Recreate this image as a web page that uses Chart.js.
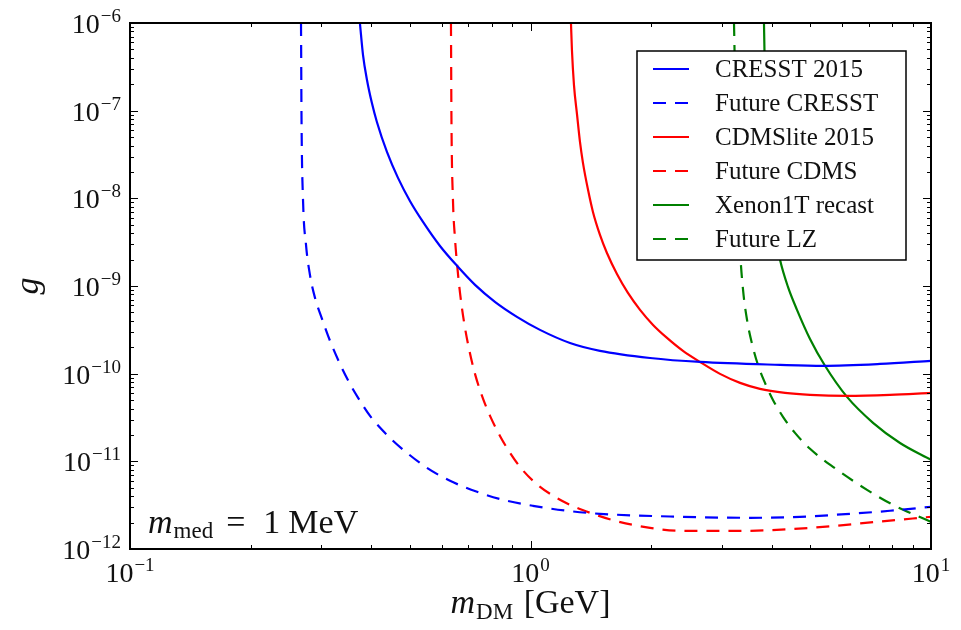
<!DOCTYPE html>
<html>
<head>
<meta charset="utf-8">
<script src="https://cdn.jsdelivr.net/npm/chart.js@4.4.1/dist/chart.umd.min.js"></script>
<style>
html, body { margin: 0; padding: 0; background: #fff; }
</style>
</head>
<body>
<canvas id="limitChart" width="961" height="630"></canvas>
<script>
// dark matter mass [GeV] and coupling g
const cresstMass = [0.375, 0.3818, 0.3906, 0.4018, 0.4135, 0.4381, 0.4668, 0.500, 0.539, 0.5943, 0.6553, 0.727, 0.815, 0.925, 1.056, 1.255, 1.491, 1.988, 2.65, 4.20, 5.37, 7.46, 10];
const cresstG = [1e-6, 4.31e-7, 2.24e-7, 1.22e-7, 7.43e-8, 3.38e-8, 1.71e-8, 9.33e-9, 5.38e-9, 2.86e-9, 1.7e-9, 1.03e-9, 6.6e-10, 4.45e-10, 3.16e-10, 2.24e-10, 1.82e-10, 1.51e-10, 1.36e-10, 1.26e-10, 1.23e-10, 1.29e-10, 1.40e-10];

const futureCresstMass = [0.2673, 0.2681, 0.2704, 0.2751, 0.2814, 0.2897, 0.3016, 0.3158, 0.3344, 0.3541, 0.3752, 0.3975, 0.4459, 0.4915, 0.5514, 0.6295, 0.7355, 0.8537, 1.0144, 1.233, 1.491, 2.403, 3.532, 4.71, 6.28, 7.90, 10];
const futureCresstG = [1e-6, 7.83e-8, 9.6e-9, 2.94e-9, 1.34e-9, 7.32e-10, 4.22e-10, 2.37e-10, 1.29e-10, 7.65e-11, 4.9e-11, 3.3e-11, 1.85e-11, 1.25e-11, 8.43e-12, 6.0e-12, 4.49e-12, 3.64e-12, 3.11e-12, 2.73e-12, 2.52e-12, 2.33e-12, 2.27e-12, 2.33e-12, 2.52e-12, 2.73e-12, 3.03e-12];

const cdmsMass = [1.262, 1.269, 1.284, 1.307, 1.329, 1.352, 1.392, 1.432, 1.491, 1.552, 1.644, 1.751, 1.877, 2.023, 2.192, 2.403, 2.650, 2.973, 3.336, 3.741, 4.321, 4.988, 6.17, 7.90, 10];
const cdmsG = [1e-6, 4.92e-7, 1.96e-7, 8.93e-8, 4.4e-8, 2.54e-8, 1.25e-8, 7.0e-9, 3.83e-9, 2.38e-9, 1.37e-9, 8.34e-10, 5.35e-10, 3.6e-10, 2.56e-10, 1.82e-10, 1.36e-10, 9.95e-11, 7.85e-11, 6.71e-11, 6.04e-11, 5.73e-11, 5.58e-11, 5.73e-11, 6.04e-11];

const futureCdmsMass = [0.633, 0.6348, 0.6403, 0.6477, 0.6552, 0.6668, 0.6823, 0.7022, 0.7268, 0.7567, 0.7924, 0.8391, 0.8888, 0.9414, 1.0144, 1.1186, 1.255, 1.408, 1.626, 1.988, 2.403, 3.336, 4.988, 7.33, 10];
const futureCdmsG = [1e-6, 7.83e-8, 9.6e-9, 3.53e-9, 1.83e-9, 8.34e-10, 3.9e-10, 1.92e-10, 9.95e-11, 5.58e-11, 3.3e-11, 1.95e-11, 1.25e-11, 8.65e-12, 6.0e-12, 4.26e-12, 3.19e-12, 2.59e-12, 2.1e-12, 1.74e-12, 1.61e-12, 1.61e-12, 1.74e-12, 2.04e-12, 2.33e-12];

const xenonMass = [3.828, 3.839, 3.873, 3.917, 3.985, 4.078, 4.198, 4.394, 4.628, 4.988, 5.437, 6.170, 7.166, 8.367, 10];
const xenonG = [1e-6, 4.8e-7, 1.02e-7, 2.74e-8, 9.6e-9, 4.04e-9, 1.99e-9, 9.77e-10, 5.35e-10, 2.49e-10, 1.23e-10, 5.43e-11, 2.75e-11, 1.62e-11, 1.04e-11];

const lzMass = [3.222, 3.232, 3.260, 3.298, 3.336, 3.394, 3.473, 3.574, 3.698, 3.850, 4.031, 4.270, 4.575, 4.988, 5.692, 6.922, 8.036, 9.226, 10];
const lzG = [1e-6, 4.8e-7, 6.03e-8, 9.6e-9, 2.58e-9, 9.03e-10, 4.1e-10, 2.19e-10, 1.26e-10, 7.85e-11, 5.02e-11, 3.22e-11, 2.11e-11, 1.39e-11, 8.65e-12, 4.73e-12, 3.19e-12, 2.39e-12, 2.04e-12];

const seriesLabels = ["CRESST 2015", "Future CRESST", "CDMSlite 2015", "Future CDMS", "Xenon1T recast", "Future LZ"];
const xDecades = [-1, 0, 1];
const yDecades = [-12, -11, -10, -9, -8, -7, -6];

const SERIF = '"Liberation Serif", "DejaVu Serif", serif';
const DASH = [13, 9];

function pts(xs, ys) {
    return xs.map((x, i) => ({ x: x, y: ys[i] }));
}

function series(label, xs, ys, color, dashed) {
    return {
        label: label,
        data: pts(xs, ys),
        borderColor: color,
        backgroundColor: color,
        borderWidth: 2.2,
        borderDash: dashed ? DASH : [],
        pointRadius: 0,
        showLine: true,
        cubicInterpolationMode: 'monotone',
        fill: false
    };
}

// draws text pieces one after another: [{text, font, dy, dx}]
function drawRuns(ctx, x, y, runs) {
    let cx = x;
    runs.forEach(r => {
        ctx.font = r.font;
        ctx.fillText(r.text, cx + (r.dx || 0), y + (r.dy || 0));
        cx += ctx.measureText(r.text).width + (r.dx || 0);
    });
    return cx;
}

function runsWidth(ctx, runs) {
    let w = 0;
    runs.forEach(r => {
        ctx.font = r.font;
        w += ctx.measureText(r.text).width + (r.dx || 0);
    });
    return w;
}

function powerLabel(e) {
    return [
        { text: "10", font: "28px " + SERIF },
        { text: (e < 0 ? "\u2212" : "") + Math.abs(e), font: "19px " + SERIF, dy: -11, dx: 1 }
    ];
}

const axesPlugin = {
    id: 'mplAxes',
    afterDatasetsDraw(chart) {
        const ctx = chart.ctx;
        const area = chart.chartArea;
        const xs = chart.scales.x, ys = chart.scales.y;
        ctx.save();

        // inward ticks on all four sides
        ctx.strokeStyle = '#000';
        ctx.lineWidth = 1;
        ctx.beginPath();
        xDecades.forEach(d => {
            for (let k = 1; k <= 9; k++) {
                const v = k * Math.pow(10, d);
                if (v > xs.max * 1.0001) break;
                const px = Math.round(xs.getPixelForValue(v)) + 0.5;
                const len = k === 1 ? 8 : 4;
                ctx.moveTo(px, area.bottom); ctx.lineTo(px, area.bottom - len);
                ctx.moveTo(px, area.top); ctx.lineTo(px, area.top + len);
            }
        });
        yDecades.forEach(d => {
            for (let k = 1; k <= 9; k++) {
                const v = k * Math.pow(10, d);
                if (v > ys.max * 1.0001) break;
                const py = Math.round(ys.getPixelForValue(v)) + 0.5;
                const len = k === 1 ? 8 : 4;
                ctx.moveTo(area.left, py); ctx.lineTo(area.left + len, py);
                ctx.moveTo(area.right, py); ctx.lineTo(area.right - len, py);
            }
        });
        ctx.stroke();

        // frame
        ctx.lineWidth = 2;
        ctx.strokeRect(area.left, area.top, area.right - area.left, area.bottom - area.top);

        // tick labels
        ctx.fillStyle = '#111';
        ctx.textBaseline = 'alphabetic';
        ctx.textAlign = 'left';
        xDecades.forEach(d => {
            const runs = powerLabel(d);
            const w = runsWidth(ctx, runs);
            const px = xs.getPixelForValue(Math.pow(10, d));
            drawRuns(ctx, px - w / 2, area.bottom + 33, runs);
        });
        yDecades.forEach(d => {
            const runs = powerLabel(d);
            const w = runsWidth(ctx, runs);
            const py = ys.getPixelForValue(Math.pow(10, d));
            drawRuns(ctx, area.left - 9 - w, py + 10, runs);
        });

        // axis titles
        const xTitle = [
            { text: "m", font: "italic 34px " + SERIF },
            { text: "DM", font: "23px " + SERIF, dy: 6, dx: 1 },
            { text: " [GeV]", font: "34px " + SERIF, dx: 2 }
        ];
        const xw = runsWidth(ctx, xTitle);
        drawRuns(ctx, (area.left + area.right) / 2 - xw / 2, 613, xTitle);

        ctx.save();
        ctx.translate(38, (area.top + area.bottom) / 2);
        ctx.rotate(-Math.PI / 2);
        ctx.textAlign = 'center';
        ctx.font = "italic 34px " + SERIF;
        ctx.fillText("g", 0, 0);
        ctx.restore();

        // mediator mass note
        drawRuns(ctx, area.left + 18, 533, [
            { text: "m", font: "italic 34px " + SERIF },
            { text: "med", font: "23px " + SERIF, dy: 5, dx: 1 },
            { text: "=", font: "34px " + SERIF, dx: 13 },
            { text: "1", font: "34px " + SERIF, dx: 18 },
            { text: "MeV", font: "34px " + SERIF, dx: 8 }
        ]);

        // legend box, drawn over the curves
        const box = { left: 637, top: 51, right: 906, bottom: 260 };
        ctx.fillStyle = '#fff';
        ctx.fillRect(box.left, box.top, box.right - box.left, box.bottom - box.top);
        ctx.strokeStyle = '#000';
        ctx.lineWidth = 1.5;
        ctx.strokeRect(box.left, box.top, box.right - box.left, box.bottom - box.top);

        ctx.font = "25px " + SERIF;
        ctx.textBaseline = 'middle';
        chart.data.datasets.forEach((ds, i) => {
            const y = 69 + i * 34;
            ctx.strokeStyle = ds.borderColor;
            ctx.lineWidth = 2;
            ctx.setLineDash(ds.borderDash);
            ctx.beginPath();
            ctx.moveTo(653, y);
            ctx.lineTo(689, y);
            ctx.stroke();
            ctx.setLineDash([]);
            ctx.fillStyle = '#111';
            ctx.fillText(ds.label, 715, y + 1);
        });

        ctx.restore();
    }
};

const ctx = document.getElementById("limitChart").getContext("2d");
new Chart(ctx, {
    type: 'scatter',
    data: {
        datasets: [
            series(seriesLabels[0], cresstMass, cresstG, '#0000ff', false),
            series(seriesLabels[1], futureCresstMass, futureCresstG, '#0000ff', true),
            series(seriesLabels[2], cdmsMass, cdmsG, '#ff0000', false),
            series(seriesLabels[3], futureCdmsMass, futureCdmsG, '#ff0000', true),
            series(seriesLabels[4], xenonMass, xenonG, '#008000', false),
            series(seriesLabels[5], lzMass, lzG, '#008000', true)
        ]
    },
    options: {
        responsive: false,
        animation: false,
        devicePixelRatio: 1,
        layout: { padding: { top: 23, right: 30, left: 0, bottom: 0 } },
        plugins: {
            legend: { display: false },
            tooltip: { enabled: false }
        },
        scales: {
            x: {
                type: 'logarithmic',
                min: 0.1,
                max: 10,
                ticks: { display: false },
                grid: { display: false },
                border: { display: false },
                afterFit: s => { s.height = 81; }
            },
            y: {
                type: 'logarithmic',
                min: 1e-12,
                max: 1e-6,
                ticks: { display: false },
                grid: { display: false },
                border: { display: false },
                afterFit: s => { s.width = 130; }
            }
        }
    },
    plugins: [axesPlugin]
});
</script>
</body>
</html>
